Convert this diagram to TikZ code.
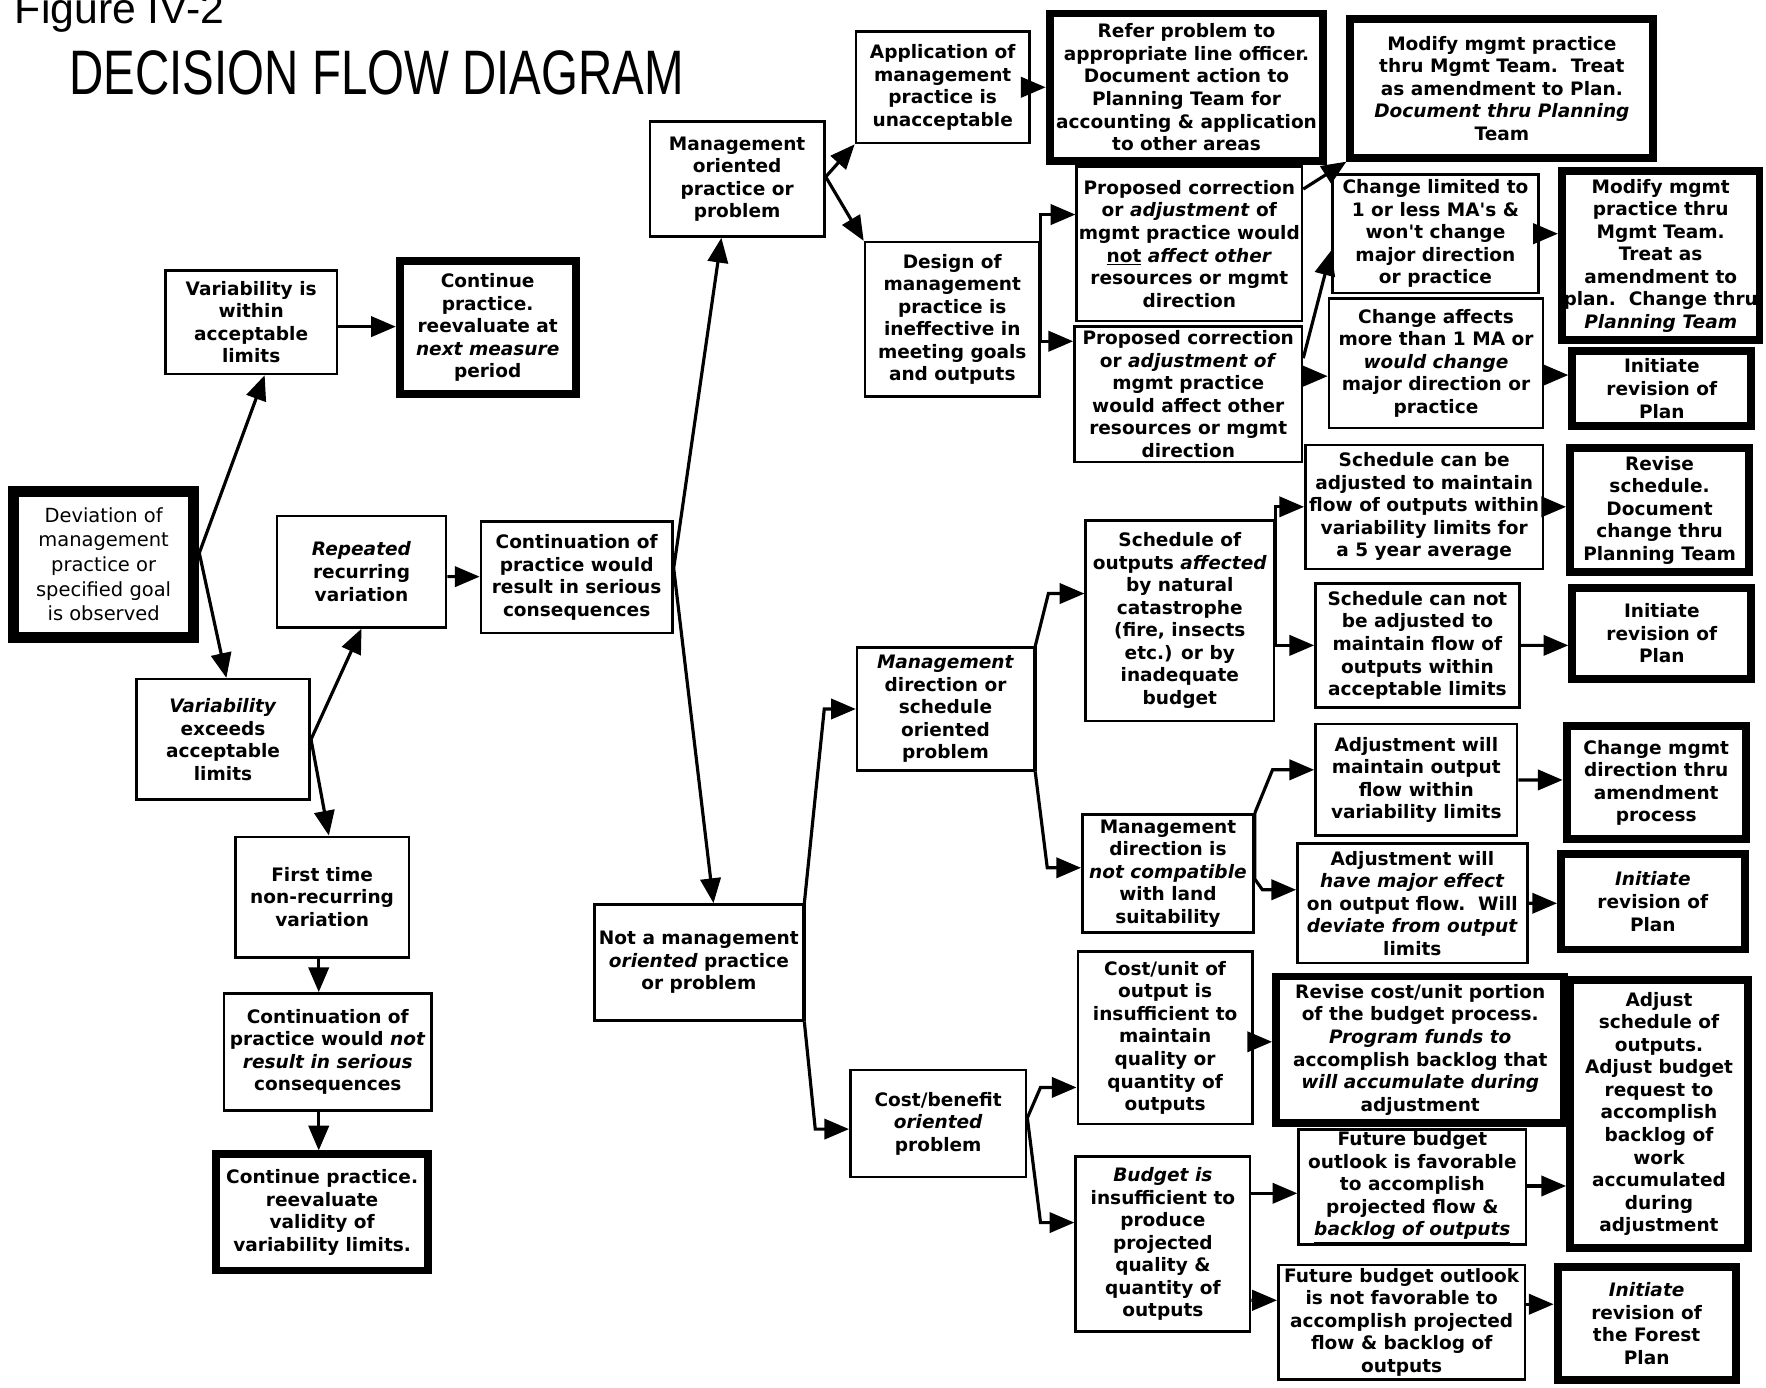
\documentclass[tikz,border=0pt]{standalone}
\usepackage{fontspec}
\newfontfamily\boxfont{DejaVu Sans}
\newfontfamily\titlefont[FakeStretch=0.755]{Liberation Sans}
\newfontfamily\figfont{Liberation Sans}
\usetikzlibrary{arrows.meta,positioning,calc}

\begin{document}
\begin{tikzpicture}[
        x=0.025cm, y=-0.025cm,
        >={Triangle[length=0.55cm,width=0.45cm]},
        wh/.style 2 args={minimum width=#1cm,minimum height=#2cm},
        box/.style={rectangle,draw,line width=1.6pt,align=center,inner sep=1pt,
            font=\boxfont\fontsize{11.7pt}{14.23pt}\selectfont\bfseries},
        endbox/.style={box,line width=5pt},
        startbox/.style={box,line width=7pt,font=\boxfont\fontsize{12.3pt}{15.6pt}\selectfont},
        arrow/.style={->,line width=2pt}
    ]
        \useasboundingbox (0,0) rectangle (1568,1232);

        \node[inner sep=0pt,font=\titlefont\fontsize{39.7pt}{40pt}\selectfont] (title) at (334.5,65) {DECISION FLOW DIAGRAM};
        \node[anchor=base west,inner sep=0pt,font=\figfont\fontsize{27pt}{29pt}\selectfont] (figlabel) at (13,21) {Figure IV-2};

        % left part
        \node[startbox,wh={4.0}{3.25}] (dev) at (92,501) {Deviation of\\management\\practice or\\specified goal\\is observed};
        \node[box,wh={3.8}{2.3}] (varwithin) at (223,286) {Variability is\\within\\acceptable\\limits};
        \node[endbox,wh={3.9}{2.95}] (contprac) at (433,291) {Continue\\practice.\\reevaluate at\\\textit{next measure}\\period};
        \node[box,wh={3.85}{2.675}] (varexc) at (198,656.5) {\textit{Variability}\\exceeds\\acceptable\\limits};
        \node[box,wh={3.75}{2.475}] (repeated) at (321,507.5) {\textit{Repeated}\\recurring\\variation};
        \node[box,wh={4.25}{2.475}] (contser) at (512,512.5) {Continuation of\\practice would\\result in serious\\consequences};
        \node[box,wh={3.85}{2.675}] (firsttime) at (286,796.5) {First time\\non-recurring\\variation};
        \node[box,wh={4.6}{2.6}] (contnot) at (291,934) {Continuation of\\practice would \textit{not}\\\textit{result in serious}\\consequences};
        \node[endbox,wh={4.7}{2.575}] (contval) at (286,1076.5) {Continue practice.\\reevaluate\\validity of\\variability limits.};

        % middle
        \node[box,wh={3.875}{2.55}] (mgmtor) at (654.5,159) {Management\\oriented\\practice or\\problem};
        \node[box,wh={4.625}{2.575}] (notmgmt) at (620.5,854.5) {Not a management\\\textit{oriented} practice\\or problem};
        \node[box,wh={3.85}{2.475}] (appl) at (837,77.5) {Application of\\management\\practice is\\unacceptable};
        \node[box,wh={3.875}{3.425}] (design) at (845.5,283.5) {Design of\\management\\practice is\\ineffective in\\meeting goals\\and outputs};
        \node[box,wh={3.925}{2.725}] (mgmtdir) at (839.5,629.5) {\textit{Management}\\direction or\\schedule\\oriented\\problem};
        \node[box,wh={3.9}{2.375}] (costben) at (833,997.5) {Cost/benefit\\\textit{oriented}\\problem};

        % third column
        \node[endbox,wh={6.075}{3.275}] (refer) at (1053.5,77.5) {Refer problem to\\appropriate line officer.\\Document action to\\Planning Team for\\accounting \& application\\to other areas};
        \node[box,wh={5.0}{3.425}] (propnot) at (1056,216.5) {Proposed correction\\or \textit{adjustment} of\\mgmt practice would\\\underline{not} \textit{affect other}\\resources or mgmt\\direction};
        \node[box,wh={5.05}{3.0}] (propaff) at (1055,350) {Proposed correction\\or \textit{adjustment of}\\mgmt practice\\would affect other\\resources or mgmt\\direction};
        \node[box,wh={4.175}{4.45}] (schedout) at (1047.5,551) {Schedule of\\outputs \textit{affected}\\by natural\\catastrophe\\(fire, insects\\etc.) or by\\inadequate\\budget};
        \node[box,wh={3.8}{2.625}] (mgmtnot) at (1037,775.5) {Management\\direction is\\\textit{not compatible}\\with land\\suitability};
        \node[box,wh={3.875}{3.825}] (costunit) at (1034.5,921.5) {Cost/unit of\\output is\\insufficient to\\maintain\\quality or\\quantity of\\outputs};
        \node[box,wh={3.875}{3.875}] (budget) at (1032.5,1104.5) {\textit{Budget is}\\insufficient to\\produce\\projected\\quality \&\\quantity of\\outputs};

        % fourth column
        \node[endbox,wh={6.725}{3.075}] (modplan) at (1333.5,78.5) {Modify mgmt practice\\thru Mgmt Team.\ \ Treat\\as amendment to Plan.\\\textit{Document thru Planning}\\Team};
        \node[box,wh={4.575}{2.625}] (chglim) at (1274.5,207.5) {Change limited to\\1 or less MA's \&\\won't change\\major direction\\or practice};
        \node[box,wh={4.75}{2.875}] (chgaff) at (1275,322.5) {Change affects\\more than 1 MA or\\\textit{would change}\\major direction or\\practice};
        \node[box,wh={5.275}{2.75}] (schedadj) at (1264.5,450) {Schedule can be\\adjusted to maintain\\flow of outputs within\\variability limits for\\a 5 year average};
        \node[box,wh={4.525}{2.75}] (schednot) at (1258.5,573) {Schedule can not\\be adjusted to\\maintain flow of\\outputs within\\acceptable limits};
        \node[box,wh={4.475}{2.475}] (adjmaint) at (1257.5,692.5) {Adjustment will\\maintain output\\flow within\\variability limits};
        \node[box,wh={5.1}{2.65}] (adjmajor) at (1254,802) {Adjustment will\\\textit{have major effect}\\on output flow.\ \ Will\\\textit{deviate from output}\\limits};
        \node[endbox,wh={6.4}{3.25}] (revcost) at (1261,932) {Revise cost/unit portion\\of the budget process.\\\textit{Program funds to}\\accomplish backlog that\\\textit{will accumulate during}\\adjustment};
        \node[box,wh={5.05}{2.55}] (futfav) at (1254,1054) {Future budget\\outlook is favorable\\to accomplish\\projected flow \&\\\underline{\textit{backlog of outputs}}};
        \node[box,wh={5.475}{2.55}] (futnot) at (1244.5,1174) {Future budget outlook\\is not favorable to\\accomplish projected\\flow \& backlog of\\outputs};

        % right column
        \node[endbox,wh={4.275}{3.75}] (modteam) at (1474.5,227) {Modify mgmt\\practice thru\\Mgmt Team.\\Treat as\\amendment to\\plan.\ \ Change thru\\\textit{Planning Team}};
        \node[endbox,wh={3.975}{1.65}] (initA) at (1475.5,345) {Initiate\\revision of\\Plan};
        \node[endbox,wh={3.975}{2.75}] (revsched) at (1473.5,453) {Revise\\schedule.\\Document\\change thru\\Planning Team};
        \node[endbox,wh={3.975}{2.025}] (initB) at (1475.5,562.5) {Initiate\\revision of\\Plan};
        \node[endbox,wh={3.975}{2.5}] (chgdir) at (1470.5,695) {Change mgmt\\direction thru\\amendment\\process};
        \node[endbox,wh={4.075}{2.125}] (initC) at (1467.5,800.5) {\textit{Initiate}\\revision of\\Plan};
        \node[endbox,wh={3.95}{5.95}] (adjsched) at (1473,989) {Adjust\\schedule of\\outputs.\\Adjust budget\\request to\\accomplish\\backlog of\\work\\accumulated\\during\\adjustment};
        \node[endbox,wh={3.95}{2.5}] (initD) at (1462,1175) {\textit{Initiate}\\revision of\\the Forest\\Plan};

        % connectors, left part
        \draw[arrow] ($(dev.east)+(0,-10)$) -- ($(varwithin.south)+(12,0)$);
        \draw[arrow] ($(dev.east)+(0,-10)$) -- ($(varexc.north)+(3,0)$);
        \draw[arrow] ($(varwithin.east)+(0,4)$) -- ($(contprac.west)+(0,-1)$);
        \draw[arrow] (varexc.east) -- (repeated.south);
        \draw[arrow] (varexc.east) -- ($(firsttime.north)+(6,0)$);
        \draw[arrow] ($(repeated.east)+(0,4.5)$) -- ($(contser.west)+(0,-0.5)$);
        \draw[arrow] ($(contser.east)+(0,-8)$) -- ($(mgmtor.south)+(-14,0)$);
        \draw[arrow] ($(contser.east)+(0,-8)$) -- ($(notmgmt.north)+(13,0)$);
        \draw[arrow] ($(firsttime.south)+(-3,0)$) -- ($(contnot.north)+(-8,0)$);
        \draw[arrow] ($(contnot.south)+(-8,0)$) -- ($(contval.north)+(-3,0)$);

        % connectors, upper branch
        \draw[arrow] ($(mgmtor.east)+(0,-2)$) -- (appl.south west);
        \draw[arrow] ($(mgmtor.east)+(0,-2)$) -- (design.north west);
        \draw[arrow] (appl.east) -- (refer.west);
        \draw[arrow] (design.east) |- ($(propnot.west)+(0,-26)$);
        \draw[arrow] (design.east) |- ($(propaff.west)+(0,-47)$);
        \draw[arrow] ($(propnot.north east)+(0,21)$) -- (modplan.south west);
        \draw[arrow] ($(propaff.east)+(0,-32)$) -- ($(chglim.west)+(0,15)$);
        \draw[arrow] ($(propaff.east)+(0,-16)$) -- ($(chgaff.west)+(0,11.5)$);
        \draw[arrow] (chglim.east) -- ($(modteam.west)+(0,-19.5)$);
        \draw[arrow] ($(chgaff.east)+(0,10.5)$) -- ($(initA.west)+(0,-12)$);

        % connectors, lower branch
        \draw[arrow] (notmgmt.south east) -- (notmgmt.north east) -- ($(mgmtdir.west)+(-28,0)$) -- (mgmtdir.west);
        \draw[arrow] (notmgmt.south east) -- ($(costben.west)+(-30,5)$) -- ($(costben.west)+(0,5)$);
        \draw[arrow] (mgmtdir.south east) -- (mgmtdir.north east) -- ($(schedout.west)+(-32,-24)$) -- ($(schedout.west)+(0,-24)$);
        \draw[arrow] (mgmtdir.south east) -- ($(mgmtnot.west)+(-30,-5)$) -- ($(mgmtnot.west)+(0,-5)$);
        \draw[arrow] ($(costben.east)+(0,-5)$) -- ($(costunit.west)+(-32,44)$) -- ($(costunit.west)+(0,44)$);
        \draw[arrow] ($(costben.east)+(0,-5)$) -- ($(budget.west)+(-30,-19)$) -- ($(budget.west)+(0,-19)$);
        \draw[arrow] (schedout.east) |- (schedadj.west);
        \draw[arrow] (schedout.east) |- (schednot.west);
        \draw[arrow] (schedadj.east) -- ($(revsched.west)+(0,-3)$);
        \draw[arrow] (schednot.east) -- ($(initB.west)+(0,10.5)$);
        \draw[arrow] (mgmtnot.north east) -- ($(adjmaint.west)+(-37,-9)$) -- ($(adjmaint.west)+(0,-9)$);
        \draw[arrow] (mgmtnot.north east) -- ($(mgmtnot.east)+(0,5)$) -- ($(adjmajor.west)+(-30,-12)$) -- ($(adjmajor.west)+(0,-12)$);
        \draw[arrow] (adjmaint.east) -- ($(chgdir.west)+(0,-2.5)$);
        \draw[arrow] (adjmajor.east) -- ($(initC.west)+(0,1.5)$);
        \draw[arrow] ($(costunit.east)+(0,3.5)$) -- ($(revcost.west)+(0,-7)$);
        \draw[arrow] ($(budget.east)+(0,-45)$) -- ($(futfav.west)+(0,5.5)$);
        \draw[arrow] ($(budget.east)+(0,50)$) -- ($(futnot.west)+(0,-19.5)$);
        \draw[arrow] ($(futfav.east)+(0,-1)$) -- ($(adjsched.west)+(0,64)$);
        \draw[arrow] ($(futnot.east)+(0,-16)$) -- ($(initD.west)+(0,-17)$);
    \end{tikzpicture}
\end{document}
